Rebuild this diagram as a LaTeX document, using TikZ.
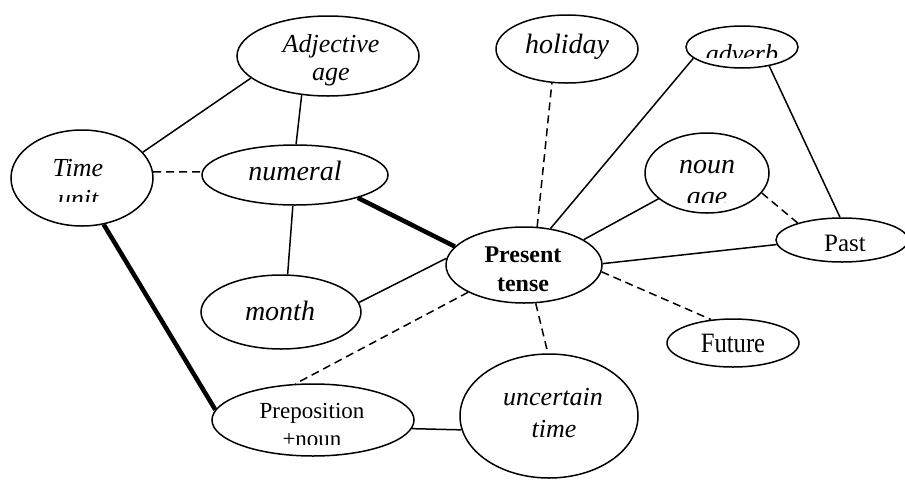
\documentclass[tikz,border=0pt]{standalone}
\usepackage{fontspec}
\usepackage{graphicx}
\setmainfont{Liberation Serif}
\usetikzlibrary{shapes.geometric}
\newcommand\fsz[1]{\fontsize{#1}{#1}\selectfont}
\tikzset{
  ell/.style 2 args={draw, ellipse, line width=1.5pt, inner sep=0pt, minimum width=#1, minimum height=#2},
  tx/.style={inner sep=0pt, anchor=base},
  it/.style={tx, font=\fsz{#1}\itshape},
  rm/.style={tx, font=\fsz{#1}},
  bf/.style={tx, font=\fsz{#1}\bfseries},
  sol/.style={line width=1.5pt},
  dsh/.style={line width=1.5pt, dash pattern=on 8pt off 5pt},
  thk/.style={line width=4.5pt},
}
\begin{document}
\begin{tikzpicture}[x=1pt,y=-1pt]
\useasboundingbox (0,0) rectangle (905,480);
% ellipses
\node[ell={182}{80}] (adj) at (328,56) {};
\node[ell={142}{96}] (tu) at (82,178) {};
\node[ell={186}{60}] (num) at (295,175) {};
\node[ell={142}{68}] (hol) at (567,49) {};
\node[ell={112}{42}] (adv) at (742,47) {};
\node[ell={124}{80}] (noun) at (707,173) {};
\node[ell={132}{44}] (past) at (842,240) {};
\node[ell={156}{76}] (pres) at (524,265) {};
\node[ell={160}{74}] (mon) at (281,312) {};
\node[ell={132}{48}] (fut) at (733,343) {};
\node[ell={202}{72}] (prep) at (313,420) {};
\node[ell={178}{124}] (unc) at (549,416) {};
% texts
\node[it=26] (adjt1) at (331,52) {Adjective};
\node[it=26] (adjt2) at (331,80) {age};
\node[it=26] (tut1) at (78,176) {Time};
\begin{scope}\clip (20,150) rectangle (140,201);
\node[it=26] (tut2) at (78,207) {unit};
\end{scope}
\node[it=28] (numt) at (295,180) {numeral};
\node[it=28] (holt) at (567,53) {holiday};
\begin{scope}\clip (690,30) rectangle (800,57);
\node[it=26] (advt) at (742,62) {adverb};
\end{scope}
\node[it=28] (nount1) at (707,173) {noun};
\begin{scope}\clip (650,180) rectangle (770,202);
\node[it=28] (nount2) at (707,205) {age};
\end{scope}
\begin{scope}\clip (780,220) rectangle (905,250);
\node[rm=25] (pastt) at (845,251) {Past};
\end{scope}
\node[bf=24] (prest1) at (523,262) {Present};
\node[bf=24] (prest2) at (523,291) {tense};
\node[it=28] (mont) at (280,320) {month};
\node[rm=28] (futt) at (733,352) {\scalebox{0.88}[1]{Future}};
\node[rm=23] (prept1) at (312,418) {Preposition};
\begin{scope}\clip (220,420) rectangle (410,444);
\node[rm=23] (prept2) at (312,446) {+noun};
\end{scope}
\node[it=26] (unct1) at (553,405) {uncertain};
\node[it=26] (unct2) at (554,437) {time};
% connectors
\draw[sol] (tu.23) -- (adj.196);
\draw[sol] (num.88) -- (adj.236);
\draw[dsh] (tu.5) -- (num.178);
\draw[thk] (num.340) -- (pres.165);
\draw[sol] (num.266) -- (mon.80);
\draw[thk] (tu.295) -- (prep.174);
\draw[sol] (mon.7) -- (pres.175);
\draw[dsh] (pres.71) -- (hol.246);
\draw[sol] (pres.54) -- (adv.193);
\draw[sol] (pres.23) -- (noun.208);
\draw[dsh] (noun.340) -- (past.159);
\draw[sol] (adv.325) -- (past.95);
\draw[sol] (pres.1) -- (past.184);
\draw[dsh] (pres.355) -- (fut.133);
\draw[dsh] (pres.206) -- (prep.116);
\draw[dsh] (pres.287) -- (unc.91);
\draw[sol] (prep.355) -- (unc.189);
\end{tikzpicture}
\end{document}
